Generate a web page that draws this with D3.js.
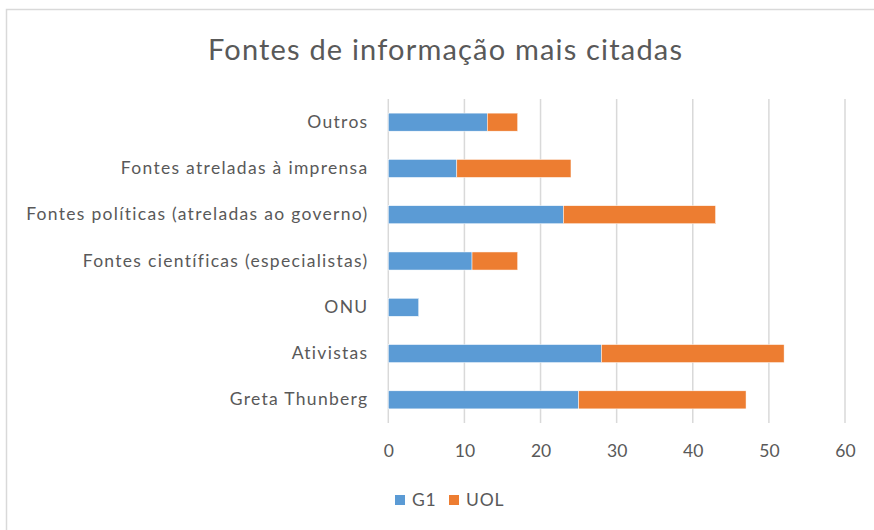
<!DOCTYPE html>
<html>
<head>
<meta charset="utf-8">
<script src="https://cdn.jsdelivr.net/npm/d3@7"></script>
<style>
  html, body { margin: 0; padding: 0; background: #fff; }
  svg { display: block; }
</style>
</head>
<body>
<svg id="chart" width="874" height="530"></svg>
<script>
const title = "Fontes de informação mais citadas";
const categories = [
  "Outros",
  "Fontes atreladas à imprensa",
  "Fontes políticas (atreladas ao governo)",
  "Fontes científicas (especialistas)",
  "ONU",
  "Ativistas",
  "Greta Thunberg"
];
const seriesNames = ["G1", "UOL"];
const g1Values  = [13, 9, 23, 11, 4, 28, 25];
const uolValues = [4, 15, 20, 6, 0, 24, 22];
const xTicks = [0, 10, 20, 30, 40, 50, 60];
const colors = ["#5B9BD5", "#ED7D31"];

const svg = d3.select("#chart");
const font = "Lato, 'Open Sans', sans-serif";
const textColor = "#595959";

// outer frame
svg.append("rect")
  .attr("x", 6.5).attr("y", 9.5)
  .attr("width", 900).attr("height", 600)
  .attr("fill", "#fff")
  .attr("stroke", "#D9D9D9").attr("stroke-width", 1.5);

const x = d3.scaleLinear().domain([0, 60]).range([388.3, 845]);
const y = d3.scaleBand().domain(categories).range([99, 423])
  .paddingInner(0.61).paddingOuter(0.305);

// gridlines
svg.append("g").selectAll("line").data(xTicks).join("line")
  .attr("x1", d => x(d)).attr("x2", d => x(d))
  .attr("y1", 99).attr("y2", 423)
  .attr("stroke", "#D9D9D9").attr("stroke-width", 1.5);

// stacked data
const rows = categories.map((c, i) => ({ cat: c, G1: g1Values[i], UOL: uolValues[i] }));
const stack = d3.stack().keys(seriesNames)(rows);

svg.append("g").selectAll("g").data(stack).join("g")
  .attr("fill", (d, i) => colors[i])
  .selectAll("rect").data(d => d.filter(p => p[1] - p[0] > 0)).join("rect")
  .attr("x", d => x(d[0]))
  .attr("y", d => y(d.data.cat))
  .attr("width", d => x(d[1]) - x(d[0]))
  .attr("height", y.bandwidth())
  .attr("stroke", "#fff").attr("stroke-width", 0.5);

// x axis tick labels
const xAxis = d3.axisBottom(x).tickValues(xTicks).tickSize(0).tickPadding(0);
const gx = svg.append("g").attr("transform", "translate(0,445)").call(xAxis);
gx.select(".domain").remove();
gx.selectAll("text")
  .attr("dy", "0.71em")
  .attr("font-family", font).attr("font-size", 17.5)
  .attr("fill", textColor);

// y axis category labels
const yAxis = d3.axisLeft(y).tickSize(0).tickPadding(0);
const gy = svg.append("g").attr("transform", "translate(368.5,0)").call(yAxis);
gy.select(".domain").remove();
gy.selectAll("text")
  .attr("font-family", font).attr("font-size", 17.5)
  .attr("letter-spacing", "1.3px")
  .attr("fill", textColor);

// title
svg.append("text")
  .attr("x", 445).attr("y", 60)
  .attr("text-anchor", "middle")
  .attr("font-family", font).attr("font-size", 29).attr("font-weight", 400)
  .attr("textLength", 474).attr("lengthAdjust", "spacing")
  .attr("fill", textColor)
  .text(title);

// legend
const legendItems = [{ name: "G1", x: 395 }, { name: "UOL", x: 449 }];
const lg = svg.append("g").selectAll("g").data(legendItems).join("g")
  .attr("transform", d => `translate(${d.x},495)`);
lg.append("rect").attr("width", 10).attr("height", 10)
  .attr("fill", (d, i) => colors[i]);
lg.append("text").attr("x", 17).attr("y", 5).attr("dy", "0.36em")
  .attr("font-family", font).attr("font-size", 17.5)
  .attr("letter-spacing", "0.8px")
  .attr("fill", textColor)
  .text(d => d.name);
</script>
</body>
</html>
